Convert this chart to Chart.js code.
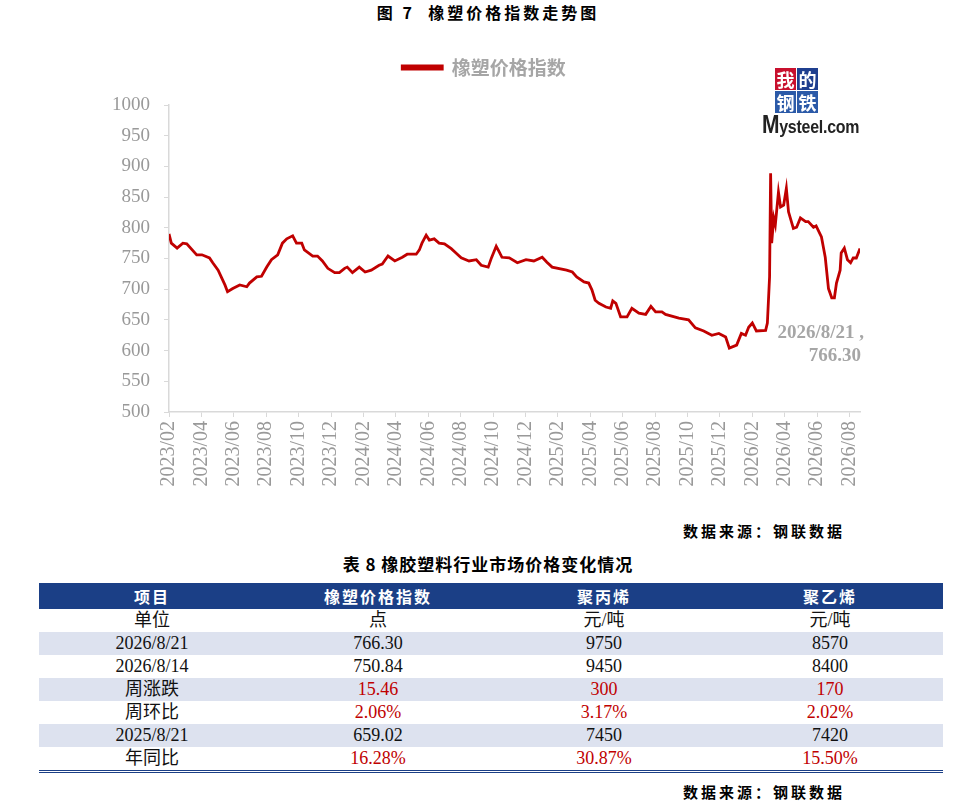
<!DOCTYPE html>
<html>
<head>
<meta charset="utf-8">
<script src="https://cdn.jsdelivr.net/npm/chart.js@4.4.1/dist/chart.umd.min.js"></script>
<style>
  body { margin: 0; background: #fff; width: 960px; height: 804px; position: relative; overflow: hidden;
         font-family: "Liberation Serif", "Noto Sans CJK SC", serif; }
  .title { position: absolute; top: 0; left: 0; width: 976px; text-align: center; font: bold 16px "Noto Sans CJK SC", sans-serif; letter-spacing: 3px; color: #000; }
  #wrap { position: absolute; left: 108px; top: 31px; width: 852px; height: 479px; }
  .logo { position: absolute; left: 762px; top: 66px; width: 100px; height: 84px; }
  .logo .cell { position: absolute; width: 21px; height: 22px; color: #fff; font: bold 18px/22px "Noto Sans CJK SC", sans-serif; text-align: center; }
  .logo .txt { position: absolute; left: 0; top: 44px; font: bold 19px "Liberation Sans", sans-serif; color: #222; letter-spacing: -0.3px; white-space: nowrap;
               transform: scaleX(0.84); transform-origin: 0 0; }
  .src { position: absolute; left: 683px; font: bold 15px "Noto Sans CJK SC", sans-serif; color: #000; letter-spacing: 3px; }
  .ttitle { position: absolute; top: 551px; left: 0; width: 976px; text-align: center; font: bold 17px "Noto Sans CJK SC", sans-serif; color: #000; letter-spacing: 1px; }
  table { position: absolute; left: 39px; top: 583px; width: 904px; border-collapse: collapse; table-layout: fixed; }
  th { background: #1b3f86; color: #fff; height: 26px; line-height: 26px; padding: 0; font: bold 16px/26px "Noto Sans CJK SC", sans-serif; letter-spacing: 2px; }
  td { height: 23px; line-height: 23px; padding: 0; text-align: center; font-size: 18px; color: #111; font-family: "Liberation Serif", "Noto Sans CJK SC", serif; overflow: hidden; }
  tr.s td { background: #dde2ef; }
  td.red { color: #c00000; }
  tr.last td { border-bottom: 3px double #1b3f86; }
</style>
</head>
<body>
<div class="title">图 7&nbsp; 橡塑价格指数走势图</div>
<div id="wrap"><canvas id="c"></canvas></div>
<div class="logo">
  <div class="cell" style="left:13px;top:2px;background:#c8102e;">我</div>
  <div class="cell" style="left:35px;top:2px;background:#1f3f8f;">的</div>
  <div class="cell" style="left:13px;top:25px;background:#2b5aa8;">钢</div>
  <div class="cell" style="left:35px;top:25px;background:#2b5aa8;">铁</div>
  <div class="txt"><span style="font-size:25px">M</span>ysteel.com</div>
</div>
<div class="src" style="top:520px;">数据来源：钢联数据</div>
<div class="ttitle">表 8 橡胶塑料行业市场价格变化情况</div>
<table id="tbl"></table>
<div class="src" style="top:781px;">数据来源：钢联数据</div>
<script>
// 橡塑价格指数
const dates = [
  '2023-02-01','2023-02-05','2023-02-15','2023-02-25','2023-03-04','2023-03-23','2023-04-02','2023-04-16',
  '2023-04-22','2023-05-02','2023-05-09','2023-05-15','2023-05-20','2023-05-30','2023-06-12','2023-06-25',
  '2023-06-30','2023-07-14','2023-07-23','2023-08-02','2023-08-11','2023-08-23','2023-09-01','2023-09-09',
  '2023-09-20','2023-09-27','2023-10-07','2023-10-12','2023-10-28','2023-11-06','2023-11-15','2023-11-25',
  '2023-12-08','2023-12-17','2023-12-27','2024-01-01','2024-01-11','2024-01-24','2024-02-04','2024-02-15',
  '2024-02-29','2024-03-06','2024-03-17','2024-03-30','2024-04-13','2024-04-22','2024-05-09','2024-05-15',
  '2024-05-20','2024-05-28','2024-06-03','2024-06-12','2024-06-21','2024-07-01','2024-07-14','2024-07-23',
  '2024-08-02','2024-08-17','2024-08-31','2024-09-09','2024-09-22','2024-09-28','2024-10-07','2024-10-12',
  '2024-10-18','2024-11-01','2024-11-16','2024-12-02','2024-12-17','2025-01-02','2025-01-11','2025-01-21',
  '2025-02-16','2025-02-26','2025-03-06','2025-03-20','2025-03-29','2025-04-04','2025-04-10','2025-04-17',
  '2025-04-30','2025-05-09','2025-05-13','2025-05-19','2025-05-28','2025-06-09','2025-06-18','2025-07-01',
  '2025-07-14','2025-07-24','2025-08-02','2025-08-14','2025-08-21','2025-09-15','2025-10-03','2025-10-16',
  '2025-11-01','2025-11-16','2025-11-29','2025-12-12','2025-12-19','2026-01-02','2026-01-11','2026-01-19',
  '2026-01-25','2026-02-01','2026-02-08','2026-02-24','2026-02-27','2026-03-03','2026-03-05','2026-03-07',
  '2026-03-11','2026-03-14','2026-03-20','2026-03-24','2026-03-30','2026-04-04','2026-04-08','2026-04-17',
  '2026-04-23','2026-04-30','2026-05-10','2026-05-15','2026-05-25','2026-05-30','2026-06-09','2026-06-16',
  '2026-06-22','2026-06-28','2026-07-03','2026-07-07','2026-07-14','2026-07-16','2026-07-22','2026-07-28',
  '2026-08-03','2026-08-08','2026-08-14','2026-08-21'
];
const indexValues = [
  790, 775, 767, 775, 774, 756, 756, 751,
  743, 731, 718, 707, 696, 701, 707, 704,
  710, 720, 721, 736, 748, 756, 775, 782,
  787, 775, 775, 764, 754, 754, 746, 734,
  727, 727, 734, 736, 727, 736, 728, 731,
  739, 741, 754, 746, 752, 757, 757, 764,
  775, 788, 780, 782, 775, 774, 766, 759,
  751, 746, 748, 739, 736, 751, 770, 762,
  752, 751, 743, 748, 746, 752, 744, 736,
  731, 728, 720, 712, 710, 699, 682, 677,
  671, 669, 681, 677, 655, 655, 669, 661,
  659, 672, 663, 663, 659.02, 653, 650, 637,
  632, 625, 628, 622, 604, 609, 628, 625,
  638, 645, 632, 633, 645, 720, 889, 775,
  816, 805, 858, 834, 837, 864, 826, 799,
  801, 816, 810, 810, 801, 803, 785, 752,
  701, 686, 686, 710, 731, 759, 767, 748,
  743, 751, 750.84, 766.30
];
const seriesName = '橡塑价格指数';
const yTicks = { min: 500, max: 1000, step: 50 };
const lastLabel = ['2026/8/21 ,', '766.30'];

// 表格数据
const tableHead = ['项目', '橡塑价格指数', '聚丙烯', '聚乙烯'];
const tableRows = [
  ['单位', '点', '元/吨', '元/吨'],
  ['2026/8/21', '766.30', '9750', '8570'],
  ['2026/8/14', '750.84', '9450', '8400'],
  ['周涨跌', '15.46', '300', '170'],
  ['周环比', '2.06%', '3.17%', '2.02%'],
  ['2025/8/21', '659.02', '7450', '7420'],
  ['年同比', '16.28%', '30.87%', '15.50%']
];
const redRows = [3, 4, 6];

// 日期 -> 以2023/02为0的月序
function monthIndex(s) {
  const [y, m, d] = s.split('-').map(Number);
  const days = new Date(y, m, 0).getDate();
  return (y - 2023) * 12 + (m - 2) + (d - 1) / days;
}
function monthLabel(v) {
  const t = Math.round(v) + 1; // 2023/02 -> 1
  const y = 2023 + Math.floor(t / 12);
  const m = t % 12 + 1;
  return y + '/' + String(m).padStart(2, '0');
}

const points = dates.map((d, i) => ({ x: monthIndex(d), y: indexValues[i] }));
const xMax = points[points.length - 1].x;

// 表格
(function buildTable() {
  const tbl = document.getElementById('tbl');
  let html = '<tr>' + tableHead.map(h => '<th>' + h + '</th>').join('') + '</tr>';
  tableRows.forEach((r, i) => {
    const cls = [];
    if (i % 2 === 1) cls.push('s');
    if (i === tableRows.length - 1) cls.push('last');
    html += '<tr class="' + cls.join(' ') + '">' + r.map((c, j) =>
      '<td' + (j > 0 && redRows.includes(i) ? ' class="red"' : '') + '>' + c + '</td>').join('') + '</tr>';
  });
  tbl.innerHTML = html;
})();

// 图例下方留白
const legendGap = {
  id: 'legendGap',
  beforeLayout(chart) {
    const lg = chart.legend;
    if (lg && !lg._gap) {
      const fit = lg.fit;
      lg.fit = function () { fit.call(this); this.height += 18; };
      lg._gap = true;
    }
  }
};

const lastLabelPlugin = {
  id: 'lastLabel',
  afterDatasetsDraw(chart) {
    const { ctx, scales } = chart;
    const x = scales.x.getPixelForValue(xMax) + 4;
    const y = scales.y.getPixelForValue(628);
    ctx.save();
    ctx.font = 'bold 19px "Liberation Serif"';
    ctx.fillStyle = '#a6a6a6';
    ctx.textAlign = 'right';
    ctx.textBaseline = 'middle';
    ctx.fillText(lastLabel[0], x, y);
    ctx.fillText(lastLabel[1], x - 3, y + 23);
    ctx.restore();
  }
};

const ctx = document.getElementById('c').getContext('2d');
new Chart(ctx, {
  type: 'line',
  data: {
    datasets: [{
      label: seriesName,
      data: points,
      borderColor: '#c00000',
      backgroundColor: '#c00000',
      borderWidth: 2.8,
      pointRadius: 0,
      tension: 0
    }]
  },
  options: {
    responsive: true,
    maintainAspectRatio: false,
    animation: false,
    layout: { padding: { left: 0, right: 100, top: 0, bottom: 0 } },
    plugins: {
      tooltip: { enabled: false },
      legend: {
        display: true,
        position: 'top',
        labels: {
          boxWidth: 40,
          boxHeight: 3,
          color: '#a6a6a6',
          padding: 27,
          font: { family: '"Noto Sans CJK SC"', size: 19, weight: 'bold' }
        }
      }
    },
    scales: {
      x: {
        type: 'linear',
        min: 0,
        max: xMax,
        afterFit(s) { s.height = 98; },
        border: { color: '#d9d9d9', width: 1.5 },
        grid: { drawOnChartArea: false, drawTicks: true, tickLength: 5, color: '#d9d9d9' },
        ticks: {
          stepSize: 2,
          includeBounds: false,
          autoSkip: false,
          minRotation: 90,
          maxRotation: 90,
          color: '#999999',
          padding: 4,
          font: { family: '"Liberation Serif"', size: 20 },
          callback: v => monthLabel(v)
        }
      },
      y: {
        min: yTicks.min,
        max: yTicks.max,
        afterFit(s) { s.width = 61; },
        border: { color: '#d9d9d9', width: 1.5 },
        grid: { drawOnChartArea: false, drawTicks: true, tickLength: 5, color: '#d9d9d9' },
        ticks: {
          stepSize: yTicks.step,
          color: '#999999',
          padding: 14,
          font: { family: '"Liberation Serif"', size: 19 },
          callback: v => String(v)
        }
      }
    }
  },
  plugins: [legendGap, lastLabelPlugin]
});
</script>
</body>
</html>
